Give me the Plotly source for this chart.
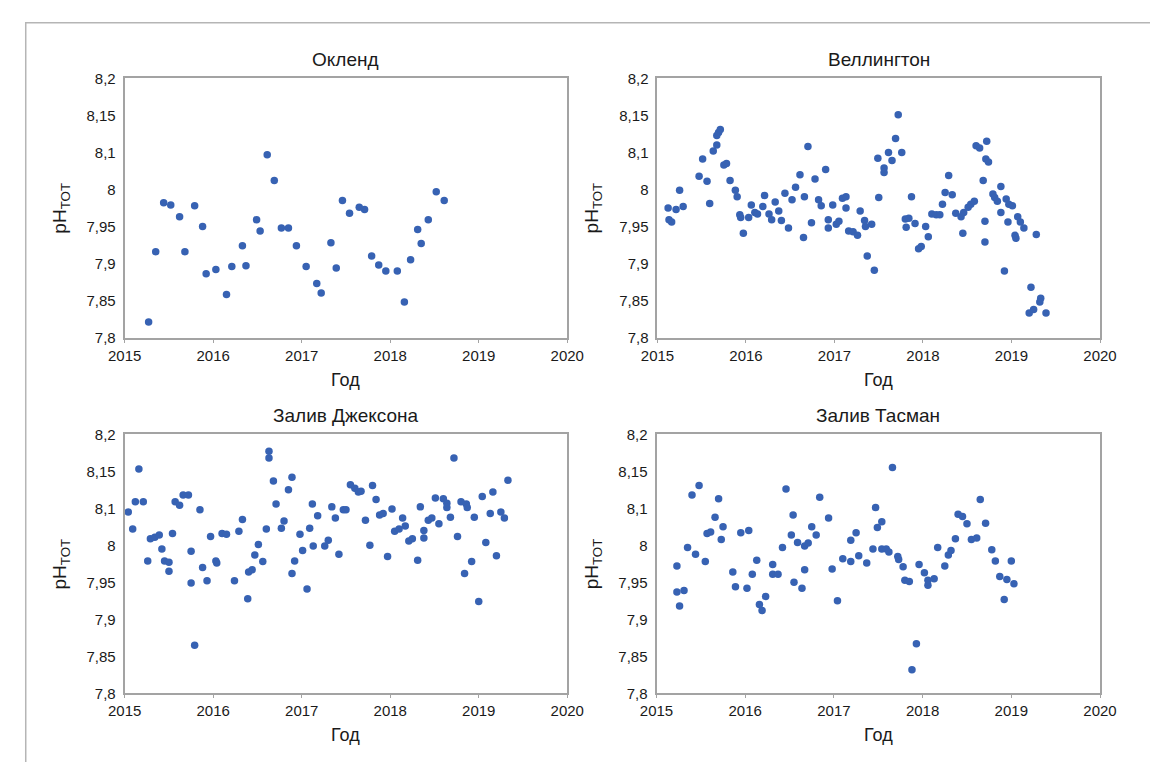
import plotly.graph_objects as go

# --- Окленд ---
auckland_year = [2015.27, 2015.35, 2015.44, 2015.52, 2015.62, 2015.68, 2015.79, 2015.88, 2015.92,
                 2016.03, 2016.15, 2016.21, 2016.33, 2016.37, 2016.49, 2016.53, 2016.61, 2016.69,
                 2016.77, 2016.85, 2016.94, 2017.05, 2017.17, 2017.22, 2017.33, 2017.39, 2017.46,
                 2017.54, 2017.65, 2017.71, 2017.79, 2017.87, 2017.95, 2018.08, 2018.16, 2018.23,
                 2018.31, 2018.35, 2018.43, 2018.52, 2018.61]
auckland_ph = [7.821, 7.916, 7.982, 7.979, 7.963, 7.916, 7.978, 7.950, 7.886,
               7.892, 7.858, 7.896, 7.924, 7.897, 7.959, 7.944, 8.047, 8.012,
               7.948, 7.948, 7.924, 7.896, 7.873, 7.860, 7.928, 7.894, 7.985,
               7.968, 7.976, 7.973, 7.910, 7.898, 7.890, 7.890, 7.848, 7.905,
               7.946, 7.927, 7.959, 7.997, 7.985]

# --- Веллингтон ---
wellington_year = [2015.12, 2015.16, 2015.13, 2015.21, 2015.25, 2015.29, 2015.47, 2015.51, 2015.56,
                   2015.59, 2015.63, 2015.67, 2015.67, 2015.69, 2015.71, 2015.75, 2015.78, 2015.82,
                   2015.88, 2015.90, 2015.93, 2015.94, 2015.97, 2016.03, 2016.06, 2016.10, 2016.13,
                   2016.19, 2016.21, 2016.26, 2016.29, 2016.33, 2016.37, 2016.40, 2016.44, 2016.48,
                   2016.52, 2016.56, 2016.61, 2016.65, 2016.66, 2016.70, 2016.74, 2016.78, 2016.82,
                   2016.85, 2016.90, 2016.93, 2016.93, 2016.98, 2017.02, 2017.05, 2017.09, 2017.13,
                   2017.13, 2017.16, 2017.21, 2017.26, 2017.29, 2017.34, 2017.35, 2017.42, 2017.37,
                   2017.45, 2017.49, 2017.50,
                   2017.56, 2017.56, 2017.61, 2017.65, 2017.69, 2017.72, 2017.76, 2017.80, 2017.81,
                   2017.84, 2017.87, 2017.91, 2017.95, 2017.98, 2018.03, 2018.06, 2018.10, 2018.15,
                   2018.19, 2018.22, 2018.25, 2018.29, 2018.33, 2018.37, 2018.43, 2018.45, 2018.46,
                   2018.51, 2018.54, 2018.58, 2018.60, 2018.64, 2018.68, 2018.70, 2018.70, 2018.72,
                   2018.71, 2018.74, 2018.79, 2018.81, 2018.84, 2018.88, 2018.88, 2018.92, 2018.94,
                   2018.97, 2018.96, 2019.01, 2019.04, 2019.05, 2019.07, 2019.10, 2019.14, 2019.22,
                   2019.28, 2019.33, 2019.32, 2019.20, 2019.25, 2019.39]
wellington_ph = [7.975, 7.956, 7.959, 7.973, 7.999, 7.977, 8.018, 8.041, 8.011,
                 7.981, 8.052, 8.060, 8.073, 8.077, 8.081, 8.033, 8.035, 8.012,
                 7.999, 7.990, 7.966, 7.962, 7.941, 7.962, 7.979, 7.969, 7.967,
                 7.977, 7.992, 7.967, 7.959, 7.983, 7.971, 7.958, 7.995, 7.948,
                 7.986, 8.003, 8.020, 7.935, 7.990, 8.058, 7.955, 8.014, 7.986,
                 7.978, 8.027, 7.959, 7.948, 7.979, 7.953, 7.957, 7.988, 7.990,
                 7.975, 7.944, 7.943, 7.938, 7.971, 7.958, 7.950, 7.953, 7.910,
                 7.891, 8.042, 7.989,
                 8.029, 8.023, 8.050, 8.039, 8.069, 8.101, 8.050, 7.960, 7.949,
                 7.961, 7.990, 7.954, 7.920, 7.923, 7.950, 7.936, 7.967, 7.966,
                 7.966, 7.980, 7.996, 8.019, 7.993, 7.968, 7.963, 7.941, 7.969,
                 7.976, 7.980, 7.984, 8.059, 8.056, 8.012, 7.957, 7.929, 8.065,
                 8.041, 8.037, 7.994, 7.989, 7.984, 8.004, 7.969, 7.890, 7.987,
                 7.980, 7.956, 7.978, 7.938, 7.934, 7.963, 7.956, 7.948, 7.868,
                 7.939, 7.853, 7.848, 7.833, 7.838, 7.833]

# --- Залив Джексона ---
jackson_year = [2015.04, 2015.09, 2015.16, 2015.12, 2015.21, 2015.26, 2015.29, 2015.34, 2015.39,
                2015.42, 2015.45, 2015.50, 2015.50, 2015.54, 2015.57, 2015.62, 2015.66, 2015.72,
                2015.75, 2015.75, 2015.79, 2015.85, 2015.88, 2015.93, 2015.97, 2016.03, 2016.04,
                2016.10, 2016.15, 2016.24, 2016.29, 2016.33, 2016.39, 2016.40, 2016.44, 2016.47,
                2016.51, 2016.56, 2016.60, 2016.63, 2016.63, 2016.68, 2016.71, 2016.77, 2016.80,
                2016.85, 2016.89, 2016.89, 2016.92, 2016.98, 2017.01, 2017.06, 2017.09, 2017.12,
                2017.13, 2017.18, 2017.26, 2017.30, 2017.34, 2017.38, 2017.42, 2017.47, 2017.50,
                2017.55, 2017.60, 2017.64, 2017.67, 2017.80, 2017.72, 2017.77, 2017.84, 2017.88,
                2017.92, 2018.02, 2017.97, 2018.05, 2018.10, 2018.14, 2018.17, 2018.21, 2018.25,
                2018.31, 2018.34, 2018.38, 2018.38, 2018.43, 2018.47, 2018.51, 2018.55, 2018.60,
                2018.64, 2018.64, 2018.68, 2018.72, 2018.76, 2018.80, 2018.86, 2018.87, 2018.84,
                2018.92, 2018.95, 2019.00, 2019.04, 2019.08, 2019.13, 2019.16, 2019.20, 2019.25,
                2019.29, 2019.33]
jackson_ph = [8.045, 8.022, 8.103, 8.059, 8.059, 7.979, 8.009, 8.011, 8.014,
              7.995, 7.979, 7.977, 7.965, 8.016, 8.059, 8.054, 8.068, 8.068,
              7.992, 7.949, 7.865, 8.048, 7.970, 7.952, 8.012, 7.979, 7.976,
              8.016, 8.015, 7.952, 8.019, 8.035, 7.928, 7.964, 7.967, 7.987,
              8.001, 7.978, 8.022, 8.127, 8.118, 8.087, 8.056, 8.023, 8.033,
              8.075, 8.092, 7.962, 7.979, 8.015, 7.993, 7.941, 8.023, 8.056,
              7.999, 8.040, 7.999, 8.007, 8.052, 8.037, 7.988, 8.048, 8.048,
              8.082, 8.077, 8.072, 8.073, 8.081, 8.034, 8.000, 8.062, 8.041,
              8.043, 8.049, 7.985, 8.019, 8.022, 8.037, 8.026, 8.006, 8.009,
              7.980, 8.052, 8.020, 8.010, 8.034, 8.037, 8.064, 8.029, 8.063,
              8.057, 8.051, 8.038, 8.118, 8.012, 8.059, 8.056, 8.051, 7.962,
              7.978, 8.038, 7.924, 8.066, 8.004, 8.043, 8.072, 7.986, 8.045,
              8.037, 8.088]

# --- Залив Тасман ---
tasman_year = [2015.23, 2015.35, 2015.44, 2015.40, 2015.48, 2015.55, 2015.57, 2015.61, 2015.66,
               2015.70, 2015.75, 2015.73, 2015.86, 2015.95, 2016.04, 2016.08, 2016.13, 2016.31,
               2016.31, 2016.37, 2016.42, 2016.46, 2016.52, 2016.54, 2016.59, 2016.67, 2016.71,
               2016.67, 2016.75, 2016.80, 2016.84, 2016.94, 2016.98, 2017.10, 2017.19, 2017.19,
               2017.25, 2017.28, 2017.37, 2017.44, 2017.47, 2017.49, 2017.54, 2017.54, 2017.59,
               2017.62, 2017.66, 2017.72, 2017.73, 2017.78, 2017.96, 2018.02, 2018.17, 2018.25,
               2018.29, 2018.32, 2018.37, 2018.40, 2018.45, 2018.50, 2018.55, 2018.61, 2018.65,
               2018.71, 2018.78, 2018.82, 2018.87, 2019.00,
               2015.23, 2015.31, 2015.26, 2015.89, 2016.02, 2016.16, 2016.19, 2016.23, 2016.55,
               2016.64, 2017.04, 2017.80, 2017.85, 2017.93, 2017.88, 2018.06, 2018.06, 2018.13,
               2018.95, 2019.03, 2018.92]
tasman_ph = [7.972, 7.997, 7.988, 8.068, 8.081, 7.978, 8.016, 8.018, 8.038,
             8.063, 8.025, 8.008, 7.964, 8.017, 8.020, 7.961, 7.980, 7.974,
             7.961, 7.961, 7.997, 8.076, 8.014, 8.041, 8.004, 7.999, 8.003,
             7.967, 8.025, 8.014, 8.065, 8.037, 7.968, 7.982, 7.978, 8.007,
             8.017, 7.986, 7.976, 7.995, 8.051, 8.024, 8.032, 7.995, 7.995,
             7.991, 8.105, 7.985, 7.981, 7.971, 7.974, 7.963, 7.997, 7.972,
             7.987, 7.993, 8.009, 8.042, 8.039, 8.029, 8.008, 8.010, 8.062,
             8.030, 7.994, 7.979, 7.958, 7.979,
             7.937, 7.939, 7.918, 7.944, 7.942, 7.920, 7.912, 7.931, 7.950,
             7.942, 7.925, 7.953, 7.951, 7.867, 7.832, 7.953, 7.946, 7.955,
             7.954, 7.948, 7.927]

panel_titles = ["Окленд", "Веллингтон", "Залив Джексона", "Залив Тасман"]
year_ticks = [2015, 2016, 2017, 2018, 2019, 2020]
ph_tick_vals = [7.80, 7.85, 7.90, 7.95, 8.00, 8.05, 8.10, 8.15]
ph_tick_text = ["7,8", "7,85", "7,9", "7,95", "8", "8,1", "8,15", "8,2"]
x_title = "Год"
y_title = "pH<sub>TOT</sub>"

W, H = 1150, 762
FONT = "Liberation Sans, Arial, sans-serif"
DOT = "#3762b3"
AXIS = "#a3a3a3"
INK = "#1a1a1a"

# plot-area boxes in pixels: (left, right, top, bottom)
boxes = [(111, 567, 71, 336), (660, 1116, 71, 336),
         (111, 567, 435, 700), (659, 1116, 435, 700)]

series = [(auckland_year, auckland_ph), (wellington_year, wellington_ph),
          (jackson_year, jackson_ph), (tasman_year, tasman_ph)]

fig = go.Figure()
layout = dict(
    width=W, height=H, margin=dict(l=0, r=0, t=0, b=0),
    paper_bgcolor="white", plot_bgcolor="white", showlegend=False,
    font=dict(family=FONT, size=15, color=INK),
)
annotations = []
for i, ((xs, ys), (l, r, t, b), title) in enumerate(zip(series, boxes, panel_titles)):
    n = "" if i == 0 else str(i + 1)
    fig.add_trace(go.Scatter(
        x=xs, y=ys, mode="markers", xaxis="x" + n, yaxis="y" + n,
        marker=dict(size=7.5, color=DOT, line=dict(width=0)),
    ))
    layout["xaxis" + n] = dict(
        domain=[l / W, r / W], anchor="y" + n, range=[2015, 2020],
        tickvals=year_ticks, ticktext=[str(v) for v in year_ticks],
        showgrid=False, zeroline=False, showline=True, linecolor=AXIS, linewidth=2,
        mirror=True, ticks="outside", ticklen=3, tickcolor=AXIS,
        tickfont=dict(size=15, color=INK),
    )
    layout["yaxis" + n] = dict(
        domain=[1 - b / H, 1 - t / H], anchor="x" + n, range=[7.8, 8.15],
        tickvals=ph_tick_vals, ticktext=ph_tick_text,
        showgrid=False, zeroline=False, showline=True, linecolor=AXIS, linewidth=2,
        mirror=True, ticks="", ticklabelstandoff=4,
        tickfont=dict(size=15, color=INK),
    )
    cx = (l + r) / 2 / W
    annotations.append(dict(text=title, x=cx, y=1 - (t - 19) / H, xref="paper", yref="paper",
                            showarrow=False, xanchor="center", yanchor="middle",
                            font=dict(size=19, color=INK, family=FONT)))
    annotations.append(dict(text=x_title, x=cx, y=1 - (b + 43) / H, xref="paper", yref="paper",
                            showarrow=False, xanchor="center", yanchor="middle",
                            font=dict(size=18, color=INK, family=FONT)))
    annotations.append(dict(text=y_title, x=(l - 66) / W, y=1 - (t + b) / 2 / H,
                            xref="paper", yref="paper", textangle=-90,
                            showarrow=False, xanchor="center", yanchor="middle",
                            font=dict(size=19, color=INK, family=FONT)))

layout["annotations"] = annotations
# outer frame around the whole figure
layout["shapes"] = [dict(type="rect", xref="paper", yref="paper",
                         x0=9 / W, x1=1.05, y0=-0.05, y1=1 - 14 / H,
                         line=dict(color="#b5b5b5", width=1.5), fillcolor="rgba(0,0,0,0)")]
fig.update_layout(**layout)
fig.write_html("out.html")
